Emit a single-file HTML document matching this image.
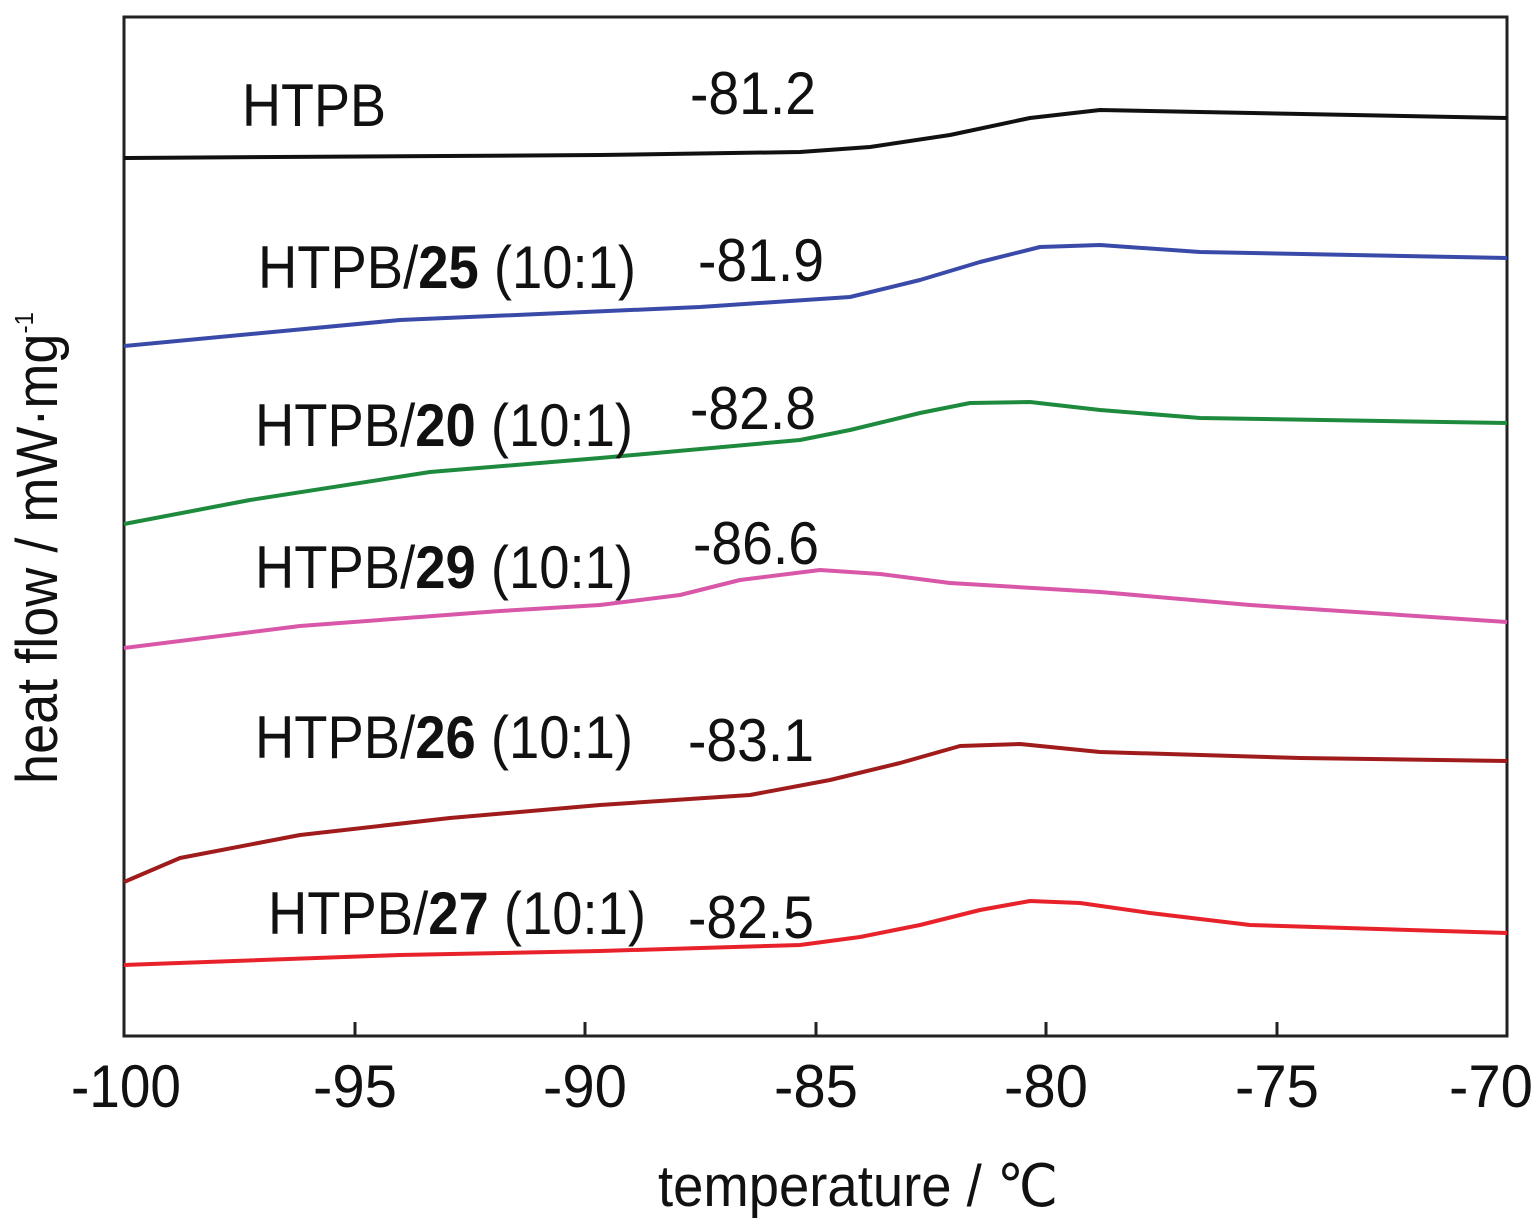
<!DOCTYPE html>
<html><head><meta charset="utf-8"><style>
html,body{margin:0;padding:0;background:#fff;}
svg{display:block;}
text{font-family:"Liberation Sans Narrow","Liberation Sans",sans-serif;fill:#111;}
</style></head><body>
<svg width="1538" height="1218" viewBox="0 0 1538 1218" xmlns="http://www.w3.org/2000/svg">
<rect x="124" y="17" width="1383" height="1019" fill="none" stroke="#222" stroke-width="3"/>
<g stroke="#222" stroke-width="3">
<line x1="355" y1="1036" x2="355" y2="1022"/><line x1="585" y1="1036" x2="585" y2="1022"/>
<line x1="816" y1="1036" x2="816" y2="1022"/><line x1="1046" y1="1036" x2="1046" y2="1022"/>
<line x1="1277" y1="1036" x2="1277" y2="1022"/>
</g>
<g font-size="60" text-anchor="middle">
<text x="126" y="1107" textLength="110" lengthAdjust="spacingAndGlyphs">-100</text>
<text x="355" y="1107" textLength="84" lengthAdjust="spacingAndGlyphs">-95</text>
<text x="585" y="1107" textLength="84" lengthAdjust="spacingAndGlyphs">-90</text>
<text x="816" y="1107" textLength="84" lengthAdjust="spacingAndGlyphs">-85</text>
<text x="1046" y="1107" textLength="84" lengthAdjust="spacingAndGlyphs">-80</text>
<text x="1277" y="1107" textLength="84" lengthAdjust="spacingAndGlyphs">-75</text>
<text x="1491" y="1107" textLength="84" lengthAdjust="spacingAndGlyphs">-70</text>
</g>
<text x="858" y="1206" font-size="58" text-anchor="middle" textLength="400" lengthAdjust="spacingAndGlyphs">temperature / ℃</text>
<text transform="translate(57,548) rotate(-90)" font-size="58" text-anchor="middle" textLength="472" lengthAdjust="spacingAndGlyphs">heat flow / mW·mg<tspan font-size="26" dy="-24">-1</tspan></text>
<g fill="none" stroke-width="4" stroke-linejoin="round">
<polyline stroke="#111" points="124,158 600,155 800,152 870,147 950,135 1030,118 1100,110 1200,112 1507,118"/>
<polyline stroke="#3a4aa8" points="124,346 400,320 700,307 850,297 920,280 980,262 1040,247 1100,245 1200,252 1507,258"/>
<polyline stroke="#1e8a3e" points="124,524 250,500 430,472 600,458 800,440 850,430 920,413 970,403 1030,402 1100,410 1200,418 1507,423"/>
<polyline stroke="#d857a8" points="124,648 300,626 500,611 600,605 680,595 740,580 820,570 880,574 950,583 1100,592 1250,605 1507,622"/>
<polyline stroke="#a01c1c" points="124,882 180,858 300,835 450,818 600,805 750,795 830,780 900,763 960,746 1020,744 1100,752 1300,758 1507,761"/>
<polyline stroke="#e8222a" points="124,965 400,955 600,951 800,945 860,937 920,925 980,910 1030,901 1080,903 1150,913 1250,925 1507,933"/>
</g>
<g font-size="60" lengthAdjust="spacingAndGlyphs">
<text x="242" y="126" textLength="144" lengthAdjust="spacingAndGlyphs">HTPB</text>
<text x="690" y="114" textLength="126" lengthAdjust="spacingAndGlyphs">-81.2</text>
<text x="258" y="288" textLength="378" lengthAdjust="spacingAndGlyphs">HTPB/<tspan font-weight="bold">25</tspan> (10:1)</text>
<text x="698" y="281" textLength="126" lengthAdjust="spacingAndGlyphs">-81.9</text>
<text x="255" y="446" textLength="378" lengthAdjust="spacingAndGlyphs">HTPB/<tspan font-weight="bold">20</tspan> (10:1)</text>
<text x="690" y="429" textLength="126" lengthAdjust="spacingAndGlyphs">-82.8</text>
<text x="255" y="588" textLength="378" lengthAdjust="spacingAndGlyphs">HTPB/<tspan font-weight="bold">29</tspan> (10:1)</text>
<text x="693" y="564" textLength="126" lengthAdjust="spacingAndGlyphs">-86.6</text>
<text x="255" y="758" textLength="378" lengthAdjust="spacingAndGlyphs">HTPB/<tspan font-weight="bold">26</tspan> (10:1)</text>
<text x="688" y="761" textLength="126" lengthAdjust="spacingAndGlyphs">-83.1</text>
<text x="268" y="934" textLength="378" lengthAdjust="spacingAndGlyphs">HTPB/<tspan font-weight="bold">27</tspan> (10:1)</text>
<text x="688" y="938" textLength="126" lengthAdjust="spacingAndGlyphs">-82.5</text>
</g>
</svg>
</body></html>
